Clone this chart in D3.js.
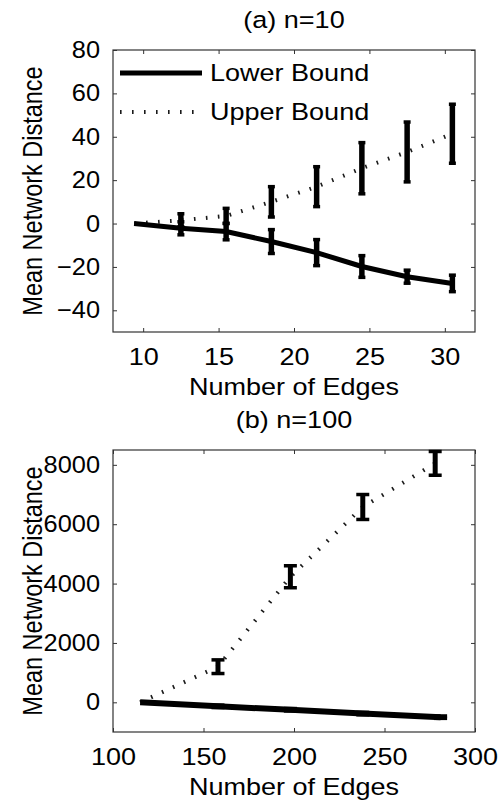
<!DOCTYPE html>
<html lang="en">
<head>
  <meta charset="UTF-8" />
  <title>Mean Network Distance</title>
  <script src="https://cdnjs.cloudflare.com/ajax/libs/d3/7.8.5/d3.min.js"></script>
  <style>
    body {
      margin: 0;
      background: #fff;
    }
    svg text {
      fill: #000;
      font-family: "Liberation Sans", Arial, sans-serif;
      font-size: 23.5px;
    }
    /* the reference figure is stretched sideways a little */
    svg text.wide {
      transform-box: fill-box;
      transform-origin: center;
      transform: scaleX(1.15);
    }
    svg text.wide.from-left { transform-origin: left center; }
    svg text.wide.from-right { transform-origin: right center; transform: scaleX(1.08); }
  </style>
</head>
<body>
  <svg id="chart" width="499" height="802"></svg>

  <script>
    // (a) n=10
    const edgesA = [9.4, 12.5, 15.5, 18.5, 21.5, 24.5, 27.5, 30.5];
    const lowerA = [0, -2.2, -3.7, -8.3, -13.4, -19.8, -24.5, -27.6];
    const lowerErrA = [0, 3, 3.8, 5.5, 6, 5, 3, 3.8];
    const upperA = [0, 1.5, 3.5, 10, 17, 25.5, 33, 41.4];
    const upperErrA = [0, 3, 3.5, 7, 9.2, 11.8, 13.8, 13.6];
    const xTicksA = [10, 15, 20, 25, 30];
    const yTicksA = [-40, -20, 0, 20, 40, 60, 80];

    // (b) n=100
    const edgesLowerB = [115, 158, 198, 238, 281];
    const edgesUpperB = [115, 158, 198, 238, 278];
    const lowerB = [0, -136, -250, -380, -500];
    const lowerErrB = [0, 40, 40, 40, 40];
    const upperB = [0, 1200, 4230, 6580, 8050];
    const upperErrB = [0, 230, 370, 420, 400];
    const xTicksB = [100, 150, 200, 250, 300];
    const yTicksB = [0, 2000, 4000, 6000, 8000];

    const legendLabels = ["Lower Bound", "Upper Bound"];

    const svg = d3.select("#chart");
    const left = 113, right = 475;
    const fmt = d3.format("d");

    function panel(opt) {
      const x = d3.scaleLinear().domain(opt.xDomain).range([left, right]);
      const y = d3.scaleLinear().domain(opt.yDomain).range([opt.bottom, opt.top]);
      const g = svg.append("g");

      // axes (ticks pointing inward, on all four sides)
      g.append("g")
        .attr("transform", `translate(0,${opt.bottom})`)
        .call(d3.axisBottom(x).tickValues(opt.xTicks).tickFormat(fmt).tickSizeInner(-4).tickSizeOuter(0).tickPadding(16))
        .selectAll("text").attr("class", "wide");
      g.append("g")
        .attr("transform", `translate(0,${opt.top})`)
        .call(d3.axisTop(x).tickValues(opt.xTicks).tickSizeInner(-4).tickSizeOuter(0).tickFormat(""));
      g.append("g")
        .attr("transform", `translate(${left},0)`)
        .call(d3.axisLeft(y).tickValues(opt.yTicks).tickFormat(fmt).tickSizeInner(-4).tickSizeOuter(0).tickPadding(13))
        .selectAll("text").attr("class", "wide from-right");
      g.append("g")
        .attr("transform", `translate(${right},0)`)
        .call(d3.axisRight(y).tickValues(opt.yTicks).tickSizeInner(-4).tickSizeOuter(0).tickFormat(""));
      g.selectAll(".domain").remove();
      g.selectAll(".tick line").attr("stroke", "#333");

      g.append("rect")
        .attr("x", left).attr("y", opt.top)
        .attr("width", right - left).attr("height", opt.bottom - opt.top)
        .attr("fill", "none").attr("stroke", "#333").attr("stroke-width", 1.2);

      const line = (xs) => d3.line().x((d, i) => x(xs[i])).y(d => y(d));

      // upper bound (dotted)
      g.append("path")
        .datum(opt.upper)
        .attr("d", line(opt.upperX))
        .attr("fill", "none")
        .attr("stroke", "#1a1a1a")
        .attr("stroke-width", 4)
        .attr("stroke-dasharray", "1.6,10.4");

      // lower bound (solid)
      g.append("path")
        .datum(opt.lower)
        .attr("d", line(opt.lowerX))
        .attr("fill", "none")
        .attr("stroke", "#000")
        .attr("stroke-width", opt.lineWidth);

      // error bars
      function errorBars(xs, means, errs) {
        const data = means.map((m, i) => ({ x: xs[i], m, e: errs[i] })).filter(d => d.e > 0);
        const eb = g.append("g").selectAll("g").data(data).join("g");
        eb.append("line")
          .attr("x1", d => x(d.x)).attr("x2", d => x(d.x))
          .attr("y1", d => y(d.m + d.e)).attr("y2", d => y(d.m - d.e))
          .attr("stroke", "#000").attr("stroke-width", opt.barWidth);
        [1, -1].forEach(s => {
          eb.append("line")
            .attr("x1", d => x(d.x) - opt.capWidth / 2).attr("x2", d => x(d.x) + opt.capWidth / 2)
            .attr("y1", d => y(d.m + s * d.e)).attr("y2", d => y(d.m + s * d.e))
            .attr("stroke", "#000").attr("stroke-width", 3.5);
        });
      }
      errorBars(opt.upperX, opt.upper, opt.upperErr);
      errorBars(opt.lowerX, opt.lower, opt.lowerErr);

      // titles and labels
      g.append("text")
        .attr("class", "wide")
        .attr("x", (left + right) / 2).attr("y", opt.top - 22)
        .attr("text-anchor", "middle")
        .text(opt.title);
      g.append("text")
        .attr("class", "wide")
        .attr("x", (left + right) / 2).attr("y", opt.bottom + 63)
        .attr("text-anchor", "middle")
        .text("Number of Edges");
      g.append("text")
        .attr("transform", `translate(42,${(opt.top + opt.bottom) / 2}) rotate(-90) scale(1,1.15)`)
        .attr("text-anchor", "middle")
        .text("Mean Network Distance");

      return g;
    }

    const gA = panel({
      title: "(a) n=10",
      xDomain: [8, 32], yDomain: [-50, 80],
      top: 50, bottom: 332,
      xTicks: xTicksA, yTicks: yTicksA,
      lowerX: edgesA, upperX: edgesA,
      lower: lowerA, lowerErr: lowerErrA,
      upper: upperA, upperErr: upperErrA,
      lineWidth: 5, barWidth: 5.5, capWidth: 7
    });

    panel({
      title: "(b) n=100",
      xDomain: [100, 300], yDomain: [-1000, 8500],
      top: 450, bottom: 732,
      xTicks: xTicksB, yTicks: yTicksB,
      lowerX: edgesLowerB, upperX: edgesUpperB,
      lower: lowerB, lowerErr: lowerErrB,
      upper: upperB, upperErr: upperErrB,
      lineWidth: 6, barWidth: 5, capWidth: 13
    });

    // legend in panel (a)
    const legend = gA.append("g");
    legend.append("line")
      .attr("x1", 120).attr("x2", 202).attr("y1", 73).attr("y2", 73)
      .attr("stroke", "#000").attr("stroke-width", 5);
    legend.append("line")
      .attr("x1", 120).attr("x2", 202).attr("y1", 112).attr("y2", 112)
      .attr("stroke", "#1a1a1a").attr("stroke-width", 4).attr("stroke-dasharray", "1.6,10.4");
    legend.selectAll("text").data(legendLabels).join("text")
      .attr("class", "wide from-left")
      .attr("x", 210).attr("y", (d, i) => 81 + i * 39)
      .text(d => d);
  </script>
</body>
</html>
